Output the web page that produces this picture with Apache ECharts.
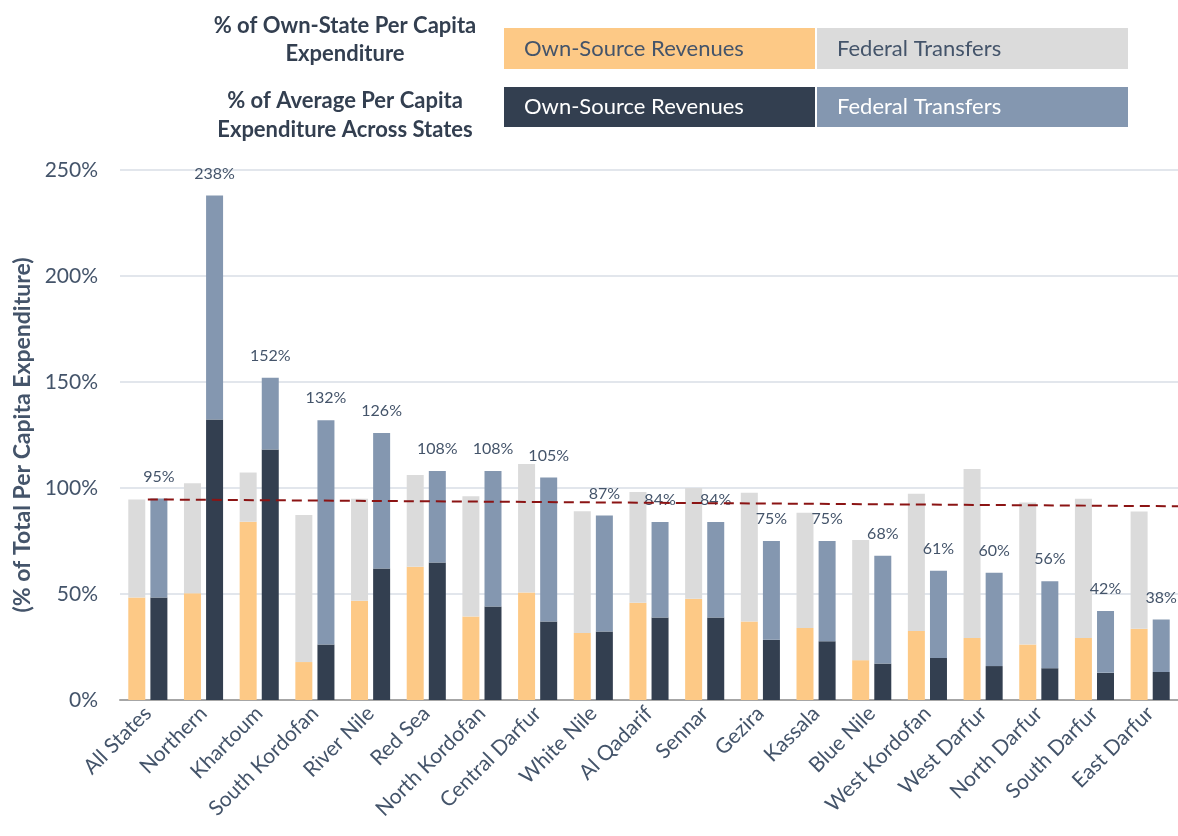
<!DOCTYPE html>
<html>
<head>
<meta charset="utf-8">
<script src="https://cdn.jsdelivr.net/npm/echarts@6/dist/echarts.min.js"></script>
<style>
  html, body { margin: 0; padding: 0; background: #fff; }
  #chart { width: 1178px; height: 836px; }
</style>
</head>
<body>
<div id="chart"></div>
<script>
// states along the x axis
const categories = ['All States', 'Northern', 'Khartoum', 'South Kordofan', 'River Nile', 'Red Sea',
  'North Kordofan', 'Central Darfur', 'White Nile', 'Al Qadarif', 'Sennar', 'Gezira', 'Kassala',
  'Blue Nile', 'West Kordofan', 'West Darfur', 'North Darfur', 'South Darfur', 'East Darfur']

// % of own-state per capita expenditure
const ownStateOwnSource = [48.3, 50.3, 84.1, 17.9, 46.8, 62.8, 39.4, 50.7, 31.6, 45.9, 47.8, 37.0, 34.0, 18.8, 32.6, 29.2, 26.2, 29.2, 33.6]
const ownStateTotal = [94.6, 102.2, 107.3, 87.3, 94.9, 106.1, 96.1, 111.3, 89.0, 98.1, 100.0, 97.8, 88.3, 75.5, 97.3, 109.0, 93.2, 94.9, 88.9]

// % of average per capita expenditure across states
const avgOwnSource = [48.3, 132.3, 118.2, 26.2, 62.0, 64.9, 44.1, 37.0, 32.3, 38.9, 38.9, 28.4, 27.7, 17.2, 19.8, 16.0, 15.0, 12.8, 13.2]
const avgTotal = [95, 238, 152, 132, 126, 108, 108, 105, 87, 84, 84, 75, 75, 68, 61, 60, 56, 42, 38]

// dashed reference line (start at first group, end at right edge)
const refLine = [[0.5, 94.6], [19, 91.4]]

const yTicks = { min: 0, max: 250, interval: 50 }

const ownStateFederal = ownStateTotal.map((t, i) => +(t - ownStateOwnSource[i]).toFixed(1))
const avgFederal = avgTotal.map((t, i) => +(t - avgOwnSource[i]).toFixed(1))

const textColor = '#44546A'
const font = 'Lato, "Open Sans", sans-serif'

const chart = echarts.init(document.getElementById('chart'))

// legend drawn as a small table of coloured boxes
const legendRows = [
  { title: ['% of Own-State Per Capita', 'Expenditure'], titleY: [26, 54], y: 28, h: 41,
    boxes: [{ text: 'Own-Source Revenues', fill: '#FDC986', color: textColor },
            { text: 'Federal Transfers', fill: '#DBDBDB', color: textColor }] },
  { title: ['% of Average Per Capita', 'Expenditure Across States'], titleY: [101, 130], y: 87, h: 40,
    boxes: [{ text: 'Own-Source Revenues', fill: '#333F50', color: '#fff' },
            { text: 'Federal Transfers', fill: '#8497B0', color: '#fff' }] }
]
const graphics = []
legendRows.forEach(row => {
  row.title.forEach((t, k) => {
    graphics.push({
      type: 'text', x: 345, y: row.titleY[k],
      style: { text: t, fill: '#333F50', font: 'bold 22px ' + font, align: 'center', verticalAlign: 'middle' }
    })
  })
  row.boxes.forEach((b, j) => {
    const x = 504 + j * 313
    graphics.push({ type: 'rect', shape: { x: x, y: row.y, width: 311, height: row.h }, style: { fill: b.fill } })
    graphics.push({ type: 'text', x: x + 20, y: row.y + row.h / 2,
      style: { text: b.text, fill: b.color, font: '22px ' + font, verticalAlign: 'middle' } })
  })
})

const option = {
  animation: false,
  backgroundColor: '#fff',
  textStyle: { fontFamily: font },
  graphic: graphics,
  grid: { left: 120, right: 0, top: 170, bottom: 136, containLabel: false },
  xAxis: [{
    type: 'category',
    data: categories,
    axisLine: { lineStyle: { color: '#A6A6A6', width: 2 } },
    axisTick: { alignWithLabel: true, length: 6, lineStyle: { color: '#A6A6A6', width: 2 } },
    axisLabel: { rotate: 45, color: textColor, fontSize: 21, margin: 10, interval: 0 }
  }, {
    type: 'value', min: 0, max: 19, show: false
  }],
  yAxis: {
    type: 'value',
    min: yTicks.min, max: yTicks.max, interval: yTicks.interval,
    name: '(% of Total Per Capita Expenditure)',
    nameLocation: 'middle',
    nameGap: 86,
    nameTextStyle: { color: textColor, fontSize: 23, fontWeight: 'bold' },
    axisLabel: { formatter: '{value}%', color: textColor, fontSize: 21, margin: 22 },
    axisLine: { show: false },
    axisTick: { show: false },
    splitLine: { lineStyle: { color: '#E2E6EC', width: 2 } }
  },
  series: [
    { name: 'Own-State Own-Source', type: 'bar', stack: 'own', data: ownStateOwnSource,
      barWidth: 17, barGap: '30%', itemStyle: { color: '#FDC986' } },
    { name: 'Own-State Federal', type: 'bar', stack: 'own', data: ownStateFederal,
      itemStyle: { color: '#DBDBDB' } },
    { name: 'Average Own-Source', type: 'bar', stack: 'avg', data: avgOwnSource,
      barWidth: 17, itemStyle: { color: '#333F50' } },
    { name: 'Average Federal', type: 'bar', stack: 'avg', data: avgFederal,
      itemStyle: { color: '#8497B0' },
      label: { show: true, position: 'top', distance: 14, color: textColor, fontSize: 16,
        formatter: p => avgTotal[p.dataIndex] + '%' } },
    { name: 'Reference', type: 'line', xAxisIndex: 1, data: refLine, symbol: 'none', z: 5,
      lineStyle: { color: '#8B1414', width: 2, type: [10, 6] } }
  ]
}
chart.setOption(option)
</script>
</body>
</html>
